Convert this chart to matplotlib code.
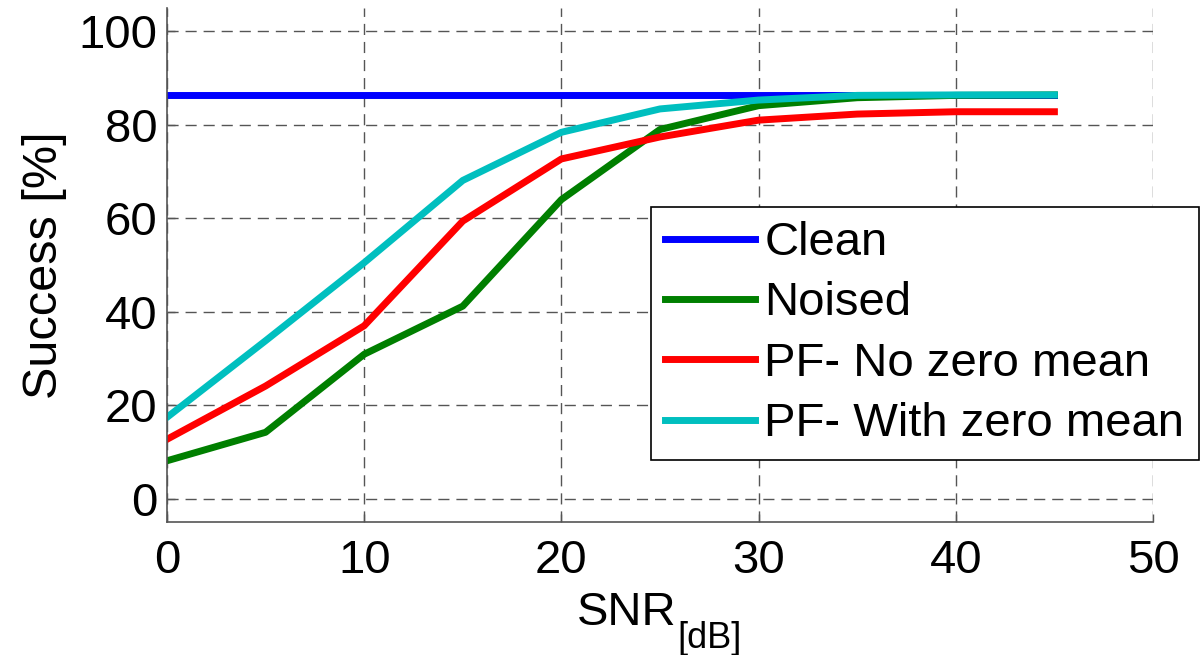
import matplotlib
matplotlib.use("Agg")
import matplotlib.pyplot as plt

plt.rcParams['font.family'] = ['Liberation Sans', 'DejaVu Sans']

snr = [0, 5, 10, 15, 20, 25, 30, 35, 40, 45]
clean = [86.4, 86.4, 86.4, 86.4, 86.4, 86.4, 86.4, 86.4, 86.4, 86.4]
noised = [8.1, 14.2, 30.9, 41.2, 64.0, 79.0, 84.1, 85.8, 86.3, 86.4]
pf_no_zero = [12.7, 24.1, 37.0, 59.4, 72.7, 77.4, 81.0, 82.3, 82.8, 82.8]
pf_with_zero = [17.4, 33.8, 50.5, 68.1, 78.4, 83.4, 85.3, 86.3, 86.4, 86.4]
labels = ['Clean', 'Noised', 'PF- No zero mean', 'PF- With zero mean']
xticks = [0, 10, 20, 30, 40, 50]
yticks = [0, 20, 40, 60, 80, 100]

W, H = 1200, 655
fig = plt.figure(figsize=(W / 100, H / 100), dpi=100)
ax = fig.add_axes([167/W, 1 - 522/H, (1153-167)/W, (522-8)/H])

lw = 5
ax.plot(snr, clean, color='#0000ff', lw=lw, label=labels[0])
ax.plot(snr, noised, color='#007f00', lw=lw, label=labels[1])
ax.plot(snr, pf_no_zero, color='#ff0000', lw=lw, label=labels[2])
ax.plot(snr, pf_with_zero, color='#00bfbf', lw=lw, label=labels[3])

ax.set_xlim(0, 50)
ax.set_ylim(-5, 105)
ax.set_xticks(xticks)
ax.set_yticks(yticks)
ax.tick_params(direction='in', length=6, width=1, labelsize=34, colors='#555555',
               labelcolor='black')
ax.tick_params(axis='x', pad=12)
ax.tick_params(axis='y', pad=7)
ax.grid(True, linestyle=(0, (8, 5)), color='#555555', lw=1)
ax.spines['top'].set_visible(False)
ax.spines['right'].set_visible(False)
for s in ['left', 'bottom']:
    ax.spines[s].set_color('#555555')
    ax.spines[s].set_linewidth(1.2)

# x label with subscript built from two texts
fig.text(577/W, 1 - 625/H, 'SNR', fontsize=34, ha='left', va='baseline')
fig.text(677/W, 1 - 648/H, '[dB]', fontsize=26, ha='left', va='baseline')
ax.set_ylabel('Success [%]', fontsize=35, labelpad=8)

leg = ax.legend(loc='upper left', bbox_to_anchor=(651/W, 1 - 207/H),
                bbox_transform=fig.transFigure, fontsize=34, frameon=True,
                fancybox=False, edgecolor='black', framealpha=1,
                handlelength=1.9, handletextpad=0.2, labelspacing=0.345,
                borderpad=0.3, borderaxespad=0)
leg.get_frame().set_linewidth(1.2)

fig.savefig('out.png', dpi=100)
